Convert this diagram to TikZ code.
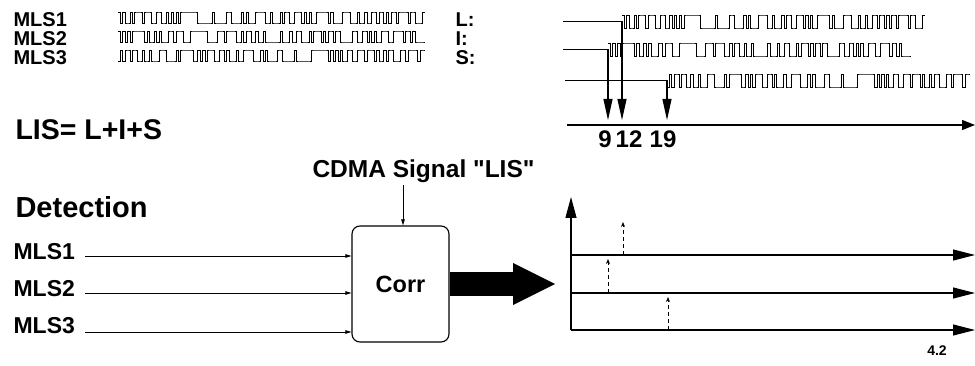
\documentclass[tikz,border=0pt]{standalone}
\usepackage{fontspec}
\setmainfont{Liberation Sans}[Ligatures=TeXOff]
\usetikzlibrary{arrows.meta}
\newcount\lfsrst \newcount\tmpa \newcount\tmpb \newcount\bitz \newcount\bitt \newcount\iter \newcount\wi
\def\mkseq#1#2#3{%
  \lfsrst=#2\relax
  \gdef#3{}%
  \iter=0
  \loop
    \tmpa=\lfsrst \divide\tmpa by 2 \multiply\tmpa by 2
    \bitz=\lfsrst \advance\bitz by -\tmpa
    \tmpb=\lfsrst \divide\tmpb by #1\relax
    \tmpa=\tmpb \divide\tmpa by 2 \multiply\tmpa by 2
    \bitt=\tmpb \advance\bitt by -\tmpa
    \xdef#3{#3\the\bitz}%
    \tmpa=\lfsrst \divide\tmpa by 2
    \ifnum\bitz=\bitt\else\advance\tmpa by 64 \fi
    \lfsrst=\tmpa
    \advance\iter by 1
  \ifnum\iter<127 \repeat}
\mkseq{2}{37}\seqA
\mkseq{8}{85}\seqB
\mkseq{64}{90}\seqC
\def\drawwave#1#2#3#4#5{%
  \def\wx{#1}\def\wdx{#2}\def\wyh{#3}\def\wyl{#4}%
  \wi=0 \def\wprevy{}\def\wpath{}%
  \expandafter\wparse#5\relax
  \edef\wcmd{\noexpand\draw[wave] \wpath -- ({\wx+\the\wi*\wdx},\wprevy);}%
  \wcmd}
\def\wparse#1{\ifx\relax#1\else\wstep#1\expandafter\wparse\fi}
\def\wstep#1{%
  \ifnum#1=1 \edef\wcury{\wyh}\else\edef\wcury{\wyl}\fi
  \ifx\wprevy\empty
    \edef\wpath{({\wx},\wcury)}%
  \else
    \edef\wpath{\wpath -- ({\wx+\the\wi*\wdx},\wprevy) -- ({\wx+\the\wi*\wdx},\wcury)}%
  \fi
  \let\wprevy\wcury
  \advance\wi by 1 }
\begin{document}
\begin{tikzpicture}[x=1pt,y=-1pt,line width=1.1pt,
  wave/.style={line width=0.85pt},
  toplbl/.style={font=\bfseries\fontsize{20}{20}\selectfont,inner sep=0pt,anchor=base west},
  botlbl/.style={font=\bfseries\fontsize{23}{23}\selectfont,inner sep=0pt,anchor=base west},
  biglbl/.style={font=\bfseries\fontsize{29}{29}\selectfont,inner sep=0pt,anchor=base west},
  numlbl/.style={font=\bfseries\fontsize{24}{24}\selectfont,inner sep=0pt,anchor=base},
  darrow/.style={-{Triangle[length=21pt,width=9pt]}},
  smallarrow/.style={line width=0.9pt,-{Triangle[length=6pt,width=3.5pt]}},
  harrow/.style={-{Triangle[length=22pt,width=11pt]}},
  peak/.style={line width=0.8pt,dash pattern=on 4pt off 3pt,-{Stealth[length=5pt,width=4pt]}},
  corrbox/.style={draw,rounded corners=8pt,minimum width=97pt,minimum height=116pt,inner sep=0pt,
    font=\bfseries\fontsize{23.5}{23.5}\selectfont}]
\useasboundingbox (0,0) rectangle (975,366);
% top left: sequences
\node[toplbl] (tA) at (13,27) {MLS1};
\node[toplbl] (tB) at (13,46) {MLS2};
\node[toplbl] (tC) at (13,65) {MLS3};
\node[toplbl] (lL) at (455,27) {L:};
\node[toplbl] (lI) at (455,46) {I:};
\node[toplbl] (lS) at (455,65) {S:};
\drawwave{118}{2.417}{12}{23}\seqA
\drawwave{118}{2.417}{31}{42}\seqB
\drawwave{118}{2.417}{50}{61}\seqC
% top right: shifted sequences
\coordinate (Lin) at (563,21.5); \coordinate (Lst) at (622,21.5);
\coordinate (Iin) at (563,49.5); \coordinate (Ist) at (608,49.5);
\coordinate (Sin) at (565,80.5); \coordinate (Sst) at (667,80.5);
\draw[wave] (Lin) -- (Lst);
\draw[wave] (Iin) -- (Ist);
\draw[wave] (Sin) -- (Sst);
\drawwave{622}{2.386}{15}{28}\seqA
\drawwave{608}{2.386}{43}{56}\seqB
\drawwave{667}{2.386}{74}{87}\seqC
\coordinate (aL) at (622,120);
\coordinate (aI) at (608,120);
\coordinate (aS) at (667,120);
\draw[darrow] (Lst) -- (aL);
\draw[darrow] (Ist) -- (aI);
\draw[darrow] (Sst) -- (aS);
\coordinate (ax0) at (567,125); \coordinate (ax1) at (975,125);
\draw[-{Triangle[length=13pt,width=10pt]}] (ax0) -- (ax1);
\node[numlbl] (n9) at (605,148) {9};
\node[numlbl] (n12) at (629,148) {12};
\node[numlbl] (n19) at (663,148) {19};
\node[biglbl,font=\bfseries\fontsize{28.5}{28.5}\selectfont] (lis) at (15,140) {LIS= L+I+S};
% detection
\node[botlbl,font=\bfseries\fontsize{24.5}{24.5}\selectfont] (cdma) at (312,178) {CDMA Signal "LIS"};
\node[biglbl] (det) at (15,218) {Detection};
\node[corrbox] (corr) at (400.5,284) {Corr};
\coordinate (cd) at (403,185);
\draw[smallarrow] (cd) -- (cd |- corr.north);
\node[botlbl] (b1) at (13,260) {MLS1};
\node[botlbl] (b2) at (13,297) {MLS2};
\node[botlbl] (b3) at (13,333) {MLS3};
\coordinate (i1) at (85,256);
\coordinate (i2) at (85,293);
\coordinate (i3) at (85,332);
\draw[smallarrow] (i1) -- (i1 -| corr.west);
\draw[smallarrow] (i2) -- (i2 -| corr.west);
\draw[smallarrow] (i3) -- (i3 -| corr.west);
\coordinate (bt) at (555,284);
\draw[line width=24pt,-{Triangle[length=42pt,width=42pt,line width=0pt]}] (corr.east) -- (bt);
% output plot
\coordinate (o) at (571,330);
\coordinate (yt) at (571,197);
\draw[-{Triangle[length=21pt,width=11pt]}] (o) -- (yt);
\coordinate (h1a) at (571,255); \coordinate (h1b) at (975,255);
\coordinate (h2a) at (571,293); \coordinate (h2b) at (975,293);
\coordinate (h3a) at (571,330); \coordinate (h3b) at (975,330);
\draw[harrow] (h1a) -- (h1b);
\draw[harrow] (h2a) -- (h2b);
\draw[harrow] (h3a) -- (h3b);
\coordinate (p1a) at (623,255); \coordinate (p1b) at (623,222);
\coordinate (p2a) at (608,293); \coordinate (p2b) at (608,259);
\coordinate (p3a) at (668,330); \coordinate (p3b) at (668,297);
\draw[peak] (p1a) -- (p1b);
\draw[peak] (p2a) -- (p2b);
\draw[peak] (p3a) -- (p3b);
\node[font=\bfseries\fontsize{14}{14}\selectfont,inner sep=0pt,anchor=base] (pg) at (937,355) {4.2};
\end{tikzpicture}
\end{document}
